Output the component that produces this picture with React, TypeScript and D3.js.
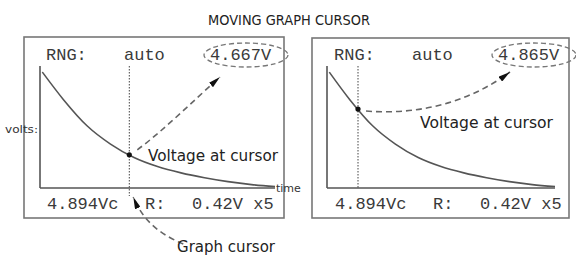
import * as d3 from "d3";

// decay curve (time in %, volts)
const curveTime = [1, 10, 20, 30, 40, 50, 60, 70, 80, 90, 100];
const curveVolts = [4.75, 3.62, 2.55, 1.8, 1.25, 0.88, 0.62, 0.42, 0.26, 0.14, 0.06];

// two screens: cursor position and the readout shown top right
const cursorTimes = [38, 13.6];
const cursorReadouts = ["4.667V", "4.865V"];
const rangeLabels = ["RNG:", "auto"];
const bottomLabels = ["4.894Vc", "R:", "0.42V x5"];

const W = 576;
const H = 257;
const lcdFont = "'Liberation Mono', 'DejaVu Sans Mono', monospace";
const labelFont = "'DejaVu Sans', Verdana, sans-serif";

const panels = [
  { bx: 24, by: 37, bw: 260, bh: 181, x0: 40, x1: 275, labelX: 148, labelY: 161, labelW: 130 },
  { bx: 312, by: 38, bw: 257, bh: 180, x0: 327, x1: 555, labelX: 420, labelY: 128, labelW: 133 },
];

const yTop = 66;
const yBase = 188;

function voltsAt(t: number) {
  const i = Math.min(Math.max(d3.bisectLeft(curveTime, t), 1), curveTime.length - 1);
  const f = (t - curveTime[i - 1]) / (curveTime[i] - curveTime[i - 1]);
  return curveVolts[i - 1] + f * (curveVolts[i] - curveVolts[i - 1]);
}

function Panel({ idx }: { idx: number }) {
  const p = panels[idx];
  const x = d3.scaleLinear().domain([0, 100]).range([p.x0, p.x1]);
  const y = d3.scaleLinear().domain([0, 5]).range([yBase, yTop]);
  const line = d3
    .line<number>()
    .x((_, i) => x(curveTime[i]))
    .y((d) => y(d))
    .curve(d3.curveMonotoneX);

  const ct = cursorTimes[idx];
  const cx = x(ct);
  const cy = y(voltsAt(ct));
  const ell = { cx: p.bx + 222, cy: 55, rx: 42, ry: 12 };

  const arrow =
    idx === 0
      ? `M${cx + 8},${cy - 5} C${cx + 35},${cy - 25} ${cx + 65},${cy - 55} ${ell.cx - 26},${ell.cy + 22}`
      : `M${cx + 8},${cy + 2} C${cx + 60},${cy + 6} ${cx + 110},${cy - 6} ${ell.cx - 24},${ell.cy + 17}`;

  return (
    <g>
      <rect x={p.bx} y={p.by} width={p.bw} height={p.bh} fill="none" stroke="#777" strokeWidth={1.6} />
      {/* axes */}
      <line x1={p.x0} x2={p.x0} y1={yTop} y2={yBase} stroke="#555" strokeWidth={1.6} />
      <line x1={p.x0} x2={p.x1} y1={yBase} y2={yBase} stroke="#555" strokeWidth={1.6} />
      {/* cursor */}
      <line x1={cx} x2={cx} y1={yTop} y2={idx === 0 ? 196 : yBase} stroke="#444" strokeWidth={1} strokeDasharray="1.5,1.5" />
      <path d={line(curveVolts) || ""} fill="none" stroke="#555" strokeWidth={1.6} />
      <circle cx={cx} cy={cy} r={2.6} fill="#111" />
      {/* lcd text */}
      <g fontFamily={lcdFont} fontSize={17} fill="#3a3a3a">
        <text x={p.bx + 22} y={60}>{rangeLabels[0]}</text>
        <text x={p.bx + 100} y={60}>{rangeLabels[1]}</text>
        <text x={p.bx + 186} y={60}>{cursorReadouts[idx]}</text>
        <text x={p.bx + 23} y={209}>{bottomLabels[0]}</text>
        <text x={p.bx + 121} y={209}>{bottomLabels[1]}</text>
        <text x={p.bx + 168} y={209}>{bottomLabels[2]}</text>
      </g>
      <ellipse cx={ell.cx} cy={ell.cy} rx={ell.rx} ry={ell.ry} fill="none" stroke="#777" strokeWidth={1.3} strokeDasharray="5,3" />
      <path d={arrow} fill="none" stroke="#666" strokeWidth={1.6} strokeDasharray="6,4" markerEnd="url(#tip)" />
      <text
        x={p.labelX}
        y={p.labelY}
        fontFamily={labelFont}
        fontSize={15}
        fill="#222"
        textLength={p.labelW}
        lengthAdjust="spacingAndGlyphs"
      >
        Voltage at cursor
      </text>
    </g>
  );
}

export default function App() {
  const leftX = d3.scaleLinear().domain([0, 100]).range([panels[0].x0, panels[0].x1]);
  const gcx = leftX(cursorTimes[0]);
  return (
    <svg width={W} height={H} style={{ position: "absolute", left: 0, top: 0, background: "#fff" }}>
      <defs>
        <marker id="tip" viewBox="0 0 12 6" markerWidth={12} markerHeight={6} refX={12} refY={3} orient="auto" markerUnits="userSpaceOnUse">
          <path d="M0,0 L12,3 L0,6 z" fill="#111" />
        </marker>
      </defs>
      <text x={289} y={25} textAnchor="middle" fontFamily={labelFont} fontSize={14} fill="#222" textLength={162} lengthAdjust="spacingAndGlyphs">
        MOVING GRAPH CURSOR
      </text>
      <Panel idx={0} />
      <Panel idx={1} />
      <text x={5} y={133} fontFamily={labelFont} fontSize={10} fill="#333" textLength={33} lengthAdjust="spacingAndGlyphs">volts:</text>
      <text x={276} y={192} fontFamily={labelFont} fontSize={11} fill="#333">time</text>
      <path
        d={`M${gcx + 54},244 C${gcx + 35},236 ${gcx + 15},224 ${gcx + 4},197`}
        fill="none"
        stroke="#666"
        strokeWidth={1.6}
        strokeDasharray="6,4"
        markerEnd="url(#tip)"
      />
      <text x={177} y={252} fontFamily={labelFont} fontSize={15} fill="#222" textLength={98} lengthAdjust="spacingAndGlyphs">
        Graph cursor
      </text>
    </svg>
  );
}
